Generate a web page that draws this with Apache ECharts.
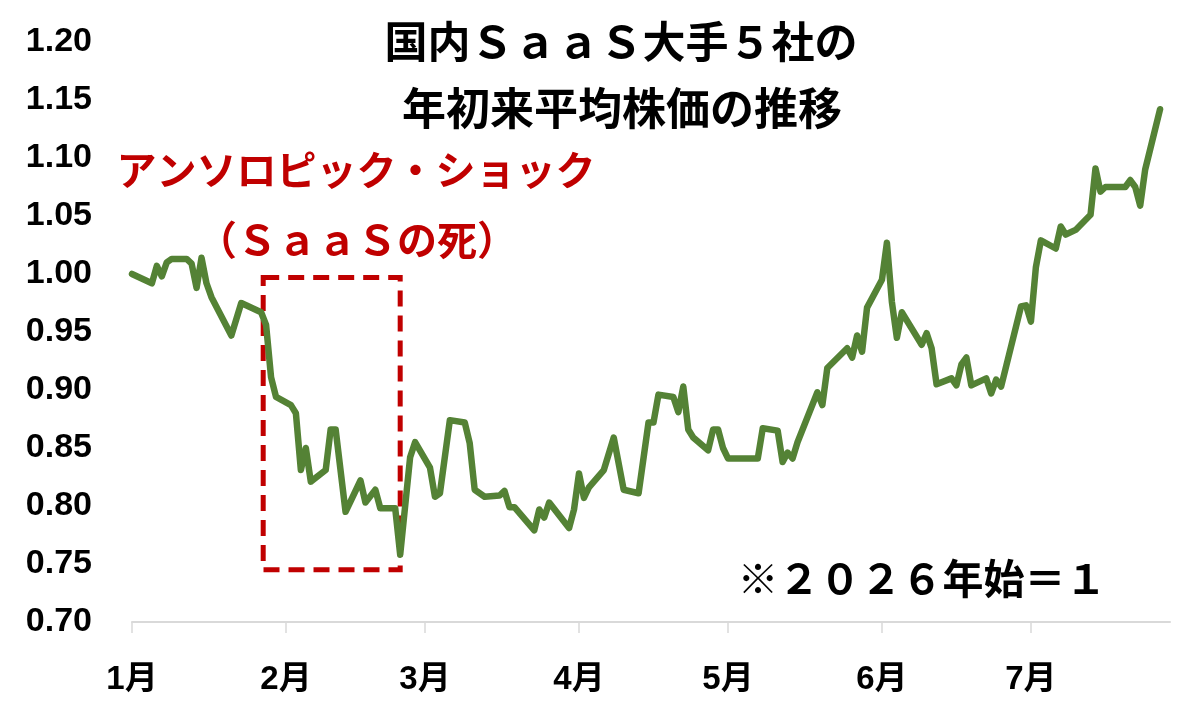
<!DOCTYPE html>
<html>
<head>
<meta charset="utf-8">
<script src="https://cdn.jsdelivr.net/npm/echarts@6/dist/echarts.min.js"></script>
<style>
html,body{margin:0;padding:0;background:#fff;}
#c{width:1200px;height:721px;}
</style>
</head>
<body>
<div id="c"></div>
<script>
const titleLines = ['国内ＳａａＳ大手５社の', '年初来平均株価の推移'];
const noteLines = ['アンソロピック・ショック', '（ＳａａＳの死）'];
const baseNote = '※２０２６年始＝１';

const dates = [
 '2026-01-01','2026-01-05','2026-01-06','2026-01-07','2026-01-08','2026-01-09','2026-01-12','2026-01-13','2026-01-14','2026-01-15',
 '2026-01-16','2026-01-17','2026-01-21','2026-01-23','2026-01-27','2026-01-28','2026-01-29','2026-01-30','2026-02-02','2026-02-03',
 '2026-02-04','2026-02-05','2026-02-06','2026-02-09','2026-02-10','2026-02-11','2026-02-13','2026-02-16','2026-02-17','2026-02-19',
 '2026-02-20','2026-02-23','2026-02-24','2026-02-26','2026-02-27','2026-03-02','2026-03-03','2026-03-04','2026-03-06','2026-03-09',
 '2026-03-10','2026-03-11','2026-03-13','2026-03-16','2026-03-17','2026-03-18','2026-03-19','2026-03-23','2026-03-24','2026-03-25',
 '2026-03-26','2026-03-30','2026-03-31','2026-04-01','2026-04-02','2026-04-03','2026-04-06','2026-04-08','2026-04-10','2026-04-13',
 '2026-04-15','2026-04-16','2026-04-17','2026-04-20','2026-04-21','2026-04-22','2026-04-23','2026-04-24','2026-04-27','2026-04-28',
 '2026-04-29','2026-04-30','2026-05-01','2026-05-06','2026-05-07','2026-05-08','2026-05-11','2026-05-12','2026-05-13','2026-05-14',
 '2026-05-15','2026-05-19','2026-05-20','2026-05-21','2026-05-25','2026-05-26','2026-05-27','2026-05-28','2026-05-29','2026-06-01',
 '2026-06-02','2026-06-03','2026-06-04','2026-06-05','2026-06-09','2026-06-10','2026-06-11','2026-06-12','2026-06-15','2026-06-16',
 '2026-06-17','2026-06-18','2026-06-19','2026-06-22','2026-06-23','2026-06-24','2026-06-25','2026-06-29','2026-06-30','2026-07-01',
 '2026-07-02','2026-07-03','2026-07-06','2026-07-07','2026-07-08','2026-07-10','2026-07-13','2026-07-14','2026-07-15','2026-07-16',
 '2026-07-20','2026-07-21','2026-07-22','2026-07-23','2026-07-24','2026-07-27'
];
const values = [
 1.000,0.992,1.007,0.998,1.010,1.013,1.013,1.009,0.988,1.014,
 0.992,0.980,0.947,0.975,0.967,0.956,0.911,0.894,0.887,0.880,
 0.831,0.850,0.821,0.831,0.866,0.866,0.795,0.822,0.803,0.814,
 0.798,0.798,0.758,0.842,0.855,0.833,0.808,0.811,0.874,0.872,
 0.854,0.814,0.808,0.809,0.813,0.799,0.799,0.779,0.797,0.790,
 0.803,0.781,0.797,0.828,0.807,0.816,0.831,0.859,0.814,0.811,
 0.872,0.872,0.896,0.894,0.881,0.903,0.866,0.859,0.848,0.866,
 0.866,0.850,0.841,0.841,0.841,0.867,0.865,0.838,0.846,0.841,
 0.855,0.898,0.887,0.919,0.936,0.928,0.947,0.933,0.971,0.995,
 1.027,0.976,0.945,0.967,0.939,0.949,0.936,0.905,0.910,0.904,
 0.922,0.928,0.904,0.910,0.897,0.909,0.903,0.972,0.973,0.959,
 1.006,1.029,1.022,1.041,1.034,1.038,1.051,1.091,1.071,1.075,
 1.075,1.081,1.075,1.059,1.090,1.142
];
const shockStart = '2026-01-27T10:00:00';
const shockEnd = '2026-02-24T00:00:00';
const shockLow = 0.745;
const shockHigh = 0.997;

const seriesData = dates.map((d, i) => [d, values[i]]);

const chart = echarts.init(document.getElementById('c'));
const jpFont = '"Noto Sans CJK JP", "Liberation Sans", sans-serif';
const red = '#c00000';

chart.setOption({
  animation: false,
  backgroundColor: '#ffffff',
  grid: { left: 132, right: 30, top: 42, bottom: 99, containLabel: false },
  xAxis: {
    type: 'time',
    min: '2026-01-01',
    max: '2026-07-29',
    splitNumber: 7,
    minInterval: 28 * 86400000,
    axisLine: { show: true, lineStyle: { color: '#d9d9d9', width: 2 } },
    axisTick: { show: true, length: 11, lineStyle: { color: '#d9d9d9', width: 1.5 } },
    splitLine: { show: false },
    axisLabel: {
      margin: 41,
      color: '#000',
      fontSize: 33,
      fontWeight: 'bold',
      fontFamily: '"Liberation Sans", "Noto Sans CJK JP", sans-serif',
      formatter: (v) => (new Date(v).getMonth() + 1) + '月',
      showMinLabel: true
    }
  },
  yAxis: {
    type: 'value',
    min: 0.7,
    max: 1.2,
    interval: 0.05,
    axisLine: { show: false },
    axisTick: { show: false },
    splitLine: { show: false },
    axisLabel: {
      margin: 40,
      color: '#000',
      fontSize: 34,
      fontWeight: 'bold',
      fontFamily: '"Liberation Sans", Arial, sans-serif',
      formatter: (v) => v.toFixed(2)
    }
  },
  series: [{
    type: 'line',
    data: seriesData,
    showSymbol: false,
    symbol: 'none',
    lineStyle: { color: '#548235', width: 6.5, join: 'round', cap: 'round' },
    itemStyle: { color: '#548235' },
    markArea: {
      silent: true,
      itemStyle: { color: 'rgba(0,0,0,0)', borderColor: red, borderWidth: 5, borderType: [16, 9] },
      data: [[{ xAxis: shockStart, yAxis: shockHigh }, { xAxis: shockEnd, yAxis: shockLow }]]
    }
  }],
  graphic: [
    { type: 'text', x: 621, y: 42, style: { text: titleLines[0], fill: '#000', font: 'bold 43px ' + jpFont, align: 'center', verticalAlign: 'middle' } },
    { type: 'text', x: 622, y: 108, style: { text: titleLines[1], fill: '#000', font: 'bold 44px ' + jpFont, align: 'center', verticalAlign: 'middle' } },
    { type: 'text', x: 356, y: 170, style: { text: noteLines[0], fill: red, font: 'bold 40px ' + jpFont, align: 'center', verticalAlign: 'middle' } },
    { type: 'text', x: 357, y: 240, style: { text: noteLines[1], fill: red, font: 'bold 40px ' + jpFont, align: 'center', verticalAlign: 'middle' } },
    { type: 'text', x: 922, y: 578, style: { text: baseNote, fill: '#000', font: 'bold 41px ' + jpFont, align: 'center', verticalAlign: 'middle' } }
  ]
});
</script>
</body>
</html>
